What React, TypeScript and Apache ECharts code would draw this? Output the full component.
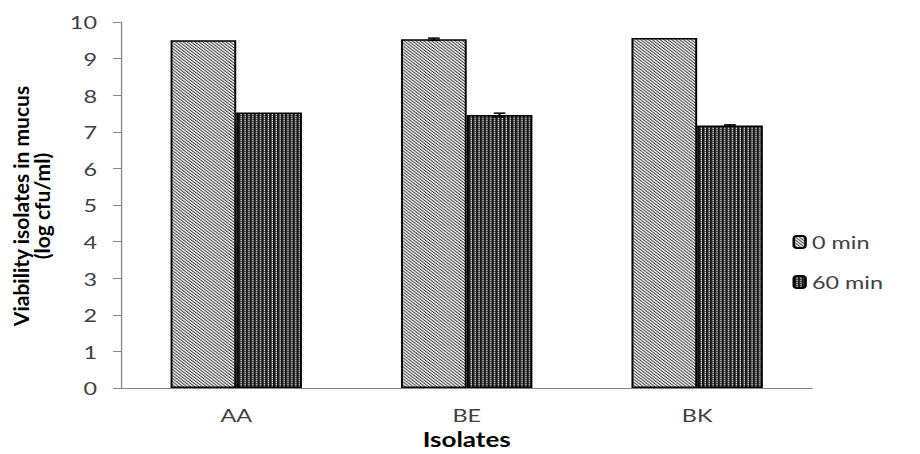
import React, { useEffect, useRef } from "react";
import * as echarts from "echarts";

const categories = ["AA", "BE", "BK"];
const seriesNames = ["0 min", "60 min"];
const values0 = [9.5, 9.53, 9.56];
const values60 = [7.53, 7.46, 7.17];
const err0 = [0, 0.03, 0];
const err60 = [0, 0.05, 0.02];
const yTicks = { min: 0, max: 10, interval: 1 };

const FONT = "Lato";
const SX = 1.3; // the reference is horizontally stretched
const W = 920 / SX;
const px = (v: number) => v / SX;

function makePattern(w: number, h: number, paint: (x: number, y: number) => string): string {
  const c = document.createElement("canvas");
  c.width = w;
  c.height = h;
  const ctx = c.getContext("2d")!;
  for (let y = 0; y < h; y++) {
    for (let x = 0; x < w; x++) {
      ctx.fillStyle = paint(x, y);
      ctx.fillRect(x, y, 1, 1);
    }
  }
  return c.toDataURL();
}

export default function App() {
  const ref = useRef<HTMLDivElement>(null);
  useEffect(() => {
    document.body.style.margin = "0";
    if (!ref.current) return;
    const chart = echarts.init(ref.current, undefined, { renderer: "svg" });
    const diag = makePattern(3, 3, (x, y) => {
      if (x === y) return "#3a3a3a";
      if (x === (y + 1) % 3) return "#c4c4c4";
      return "#ffffff";
    });
    const dark = makePattern(3, 2, (x, y) => {
      if (x === 2) return y === 0 ? "#e0e0e0" : "#707070";
      return "#141414";
    });
    const fill0 = { image: diag, repeat: "repeat" };
    const fill60 = { image: dark, repeat: "repeat" };

    const errSeries = (vals: number[], errs: number[], offset: number) => ({
      type: "custom",
      silent: true,
      z: 10,
      data: vals.map((v, i) => [i, v, errs[i]]),
      renderItem: (params: any, api: any) => {
        const idx = api.value(0);
        const v = api.value(1);
        const e = api.value(2);
        if (!e) return { type: "group", children: [] };
        const size = api.size([1, 0]);
        const half = size[0] * 0.285 / 2;
        const center = api.coord([idx, v]);
        const x = center[0] + offset * half;
        const top = api.coord([idx, v + e])[1];
        const bot = api.coord([idx, v - e])[1];
        const cap = 4.5;
        const st = { stroke: "#000", lineWidth: 1.5 };
        return {
          type: "group",
          children: [
            { type: "line", shape: { x1: x, y1: top, x2: x, y2: bot }, style: st },
            { type: "line", shape: { x1: x - cap, y1: top, x2: x + cap, y2: top }, style: st },
            { type: "line", shape: { x1: x - cap, y1: bot, x2: x + cap, y2: bot }, style: st },
          ],
        };
      },
    });

    chart.setOption({
      animation: false,
      textStyle: { fontFamily: FONT },
      grid: { left: px(121), right: px(108), top: 22, bottom: 60 },
      legend: {
        orient: "vertical",
        left: px(786),
        top: 228,
        itemWidth: 9,
        itemHeight: 12,
        itemGap: 22,
        data: seriesNames,
        textStyle: { fontSize: 18, color: "#404040", fontFamily: FONT },
      },
      xAxis: {
        type: "category",
        data: categories,
        name: "Isolates",
        nameLocation: "middle",
        nameGap: 39,
        nameTextStyle: { fontSize: 20, fontWeight: "bold", color: "#000", fontFamily: FONT },
        axisLine: { lineStyle: { color: "#868686", width: 1 } },
        axisTick: { length: 8, lineStyle: { color: "#868686" } },
        axisLabel: { fontSize: 18, color: "#404040", margin: 18, fontFamily: FONT },
      },
      yAxis: {
        type: "value",
        min: yTicks.min,
        max: yTicks.max,
        interval: yTicks.interval,
        axisLine: { show: true, lineStyle: { color: "#868686", width: 1 } },
        axisTick: { show: true, length: px(8), lineStyle: { color: "#868686" } },
        splitLine: { show: false },
        axisLabel: { fontSize: 18, color: "#404040", margin: px(24), fontFamily: FONT },
      },
      graphic: [
        {
          type: "text",
          x: px(31),
          y: 206,
          rotation: Math.PI / 2,
          scaleY: 1 / SX,
          style: {
            text: "Viability isolates in mucus\n(log cfu/ml)",
            font: `bold 21px ${FONT}`,
            fill: "#000",
            align: "center",
            verticalAlign: "middle",
            lineHeight: 21,
          },
        },
      ],
      series: [
        {
          name: seriesNames[0],
          type: "bar",
          data: values0,
          barGap: "0%",
          barCategoryGap: "43%",
          itemStyle: { color: fill0, borderColor: "#000", borderWidth: 1.5 },
        },
        {
          name: seriesNames[1],
          type: "bar",
          data: values60,
          barGap: "0%",
          barCategoryGap: "43%",
          itemStyle: { color: fill60, borderColor: "#000", borderWidth: 1.5 },
        },
        errSeries(values0, err0, -1),
        errSeries(values60, err60, 1),
      ],
    });
    return () => chart.dispose();
  }, []);
  return (
    <div style={{ width: 920, height: 454, overflow: "hidden" }}>
      <div
        ref={ref}
        style={{ width: W, height: 454, transform: `scaleX(${SX})`, transformOrigin: "0 0" }}
      />
    </div>
  );
}
